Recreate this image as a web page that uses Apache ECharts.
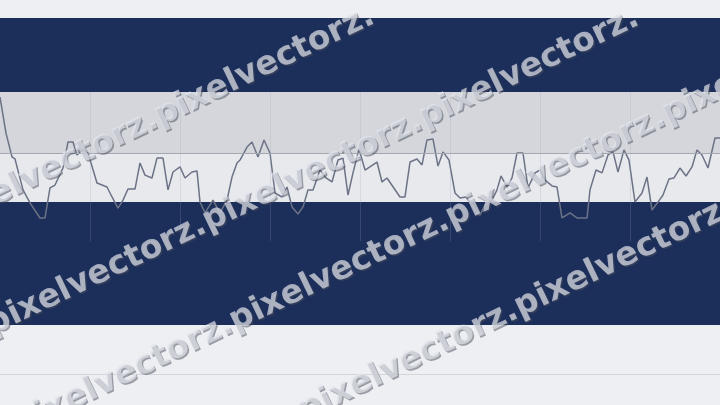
<!DOCTYPE html>
<html>
<head>
<meta charset="utf-8">
<script src="https://cdn.jsdelivr.net/npm/echarts@6/dist/echarts.min.js"></script>
<style>
html,body{margin:0;padding:0;background:#eeeff2;}
#c{width:720px;height:405px;}
</style>
</head>
<body>
<div id="c"></div>
<script>
// time positions (seconds) and level values
var times = [0,6,12,15,23,30,40,45,50,55,63,68,73,77,82,88,97,102,107,112,118,
  123,128,135,140,145,152,157,163,168,173,180,185,192,197,200,205,213,220,227,232,237,
  240,247,252,258,264,270,275,282,287,292,298,303,308,313,320,326,332,338,343,348,353,359,
  365,377,382,387,400,405,410,417,422,427,433,438,443,449,455,460,466,472,477,
  480,485,492,497,501,507,512,517,523,528,535,540,545,552,557,562,570,577,587,590,596,
  602,608,613,618,624,629,635,642,647,652,658,663,669,674,680,686,692,697,702,708,715,720];
var levels = [125.3,109.0,98.2,97.3,83.3,77.4,70.6,70.6,84.2,85.5,93.2,105.0,105.0,99.1,101.4,100.0,86.4,85.5,84.6,80.1,75.1,
  78.7,83.7,83.7,95.5,90.0,88.7,97.7,97.7,83.3,91.4,93.7,88.7,91.4,91.9,77.8,72.9,78.7,72.9,78.7,89.1,95.5,
  96.8,102.7,105.0,98.2,105.9,100.0,81.9,80.1,84.6,75.6,72.4,75.6,83.3,83.3,92.3,88.7,86.9,96.8,97.7,81.0,91.0,101.8,
  92.3,95.9,86.9,88.7,80.1,80.1,95.9,97.3,94.6,105.9,106.3,94.1,100.5,96.8,81.9,79.6,80.1,76.5,72.9,
  71.9,76.5,78.7,83.3,89.6,84.6,88.7,100.0,100.0,84.2,91.0,92.3,87.8,85.1,84.6,70.6,72.9,70.6,70.6,83.3,92.3,
  91.0,99.1,100.5,91.4,101.4,96.8,77.8,81.9,89.1,74.2,77.8,81.0,88.2,88.7,93.2,89.6,93.7,101.4,99.1,93.2,106.8,106.8];
// band thresholds
var navyBands = [[161.1,127.6],[77.8,22.2]];
var grayBand = [127.6,100];
var paleBand = [100,77.8];
var refLines = [0,100];
var timeTicks = [90,180,270,360,450,540,630];
var tickSpan = [127.6,60];
// watermark rows: text and repeat count
var wmWord = 'pixelvectorz.';
var wmRows = [[-67,207,2],[-235,416,4],[8,412,4],[293,398,2]];

var chart = echarts.init(document.getElementById('c'), null, {renderer:'canvas'});
var pts = times.map(function(t,i){return [t, levels[i]];});
var bandAreas = navyBands.map(function(b){return [{yAxis:b[0], itemStyle:{color:'#1c2e5a'}},{yAxis:b[1]}];});
bandAreas.push([{yAxis:grayBand[0], itemStyle:{color:'#d4d6db'}},{yAxis:grayBand[1]}]);
bandAreas.push([{yAxis:paleBand[0], itemStyle:{color:'#e8e9ed'}},{yAxis:paleBand[1]}]);

var wm = [];
wmRows.forEach(function(r){
  var txt = new Array(r[2]+1).join(wmWord);
  wm.push({type:'text', x:r[0]+1.5, y:r[1]+1.5, rotation:0.447, z:100,
    style:{text:txt, fill:'rgba(70,75,90,0.5)', font:'bold 33px "DejaVu Sans"'}});
  wm.push({type:'text', x:r[0], y:r[1], rotation:0.447, z:101,
    style:{text:txt, fill:'rgba(225,228,235,0.7)', font:'bold 33px "DejaVu Sans"'}});
});

var vLines = timeTicks.map(function(t){
  return [{coord:[t,tickSpan[0]], lineStyle:{color:'rgba(150,160,180,0.22)', width:1, type:'solid'}},{coord:[t,tickSpan[1]]}];
});

chart.setOption({
  animation:false,
  backgroundColor:'#eeeff2',
  grid:{left:0,right:0,top:0,bottom:0},
  xAxis:{type:'value', min:0, max:720, show:false},
  yAxis:{type:'value', min:-14.03, max:169.23, show:false},
  series:[
    {type:'line', data:[], markArea:{silent:true, data:bandAreas}, z:1},
    {type:'line', data:[], z:2, markLine:{silent:true, symbol:'none', label:{show:false},
      data: vLines.concat([{yAxis:refLines[1], lineStyle:{color:'#a3a7af', width:1, type:'solid'}},
                 {yAxis:refLines[0], lineStyle:{color:'#d3d5d9', width:1, type:'solid'}}])}},
    {type:'line', data:pts, z:3, symbol:'none', lineStyle:{color:'#6c7386', width:1.5}}
  ],
  graphic: wm
});
</script>
</body>
</html>
